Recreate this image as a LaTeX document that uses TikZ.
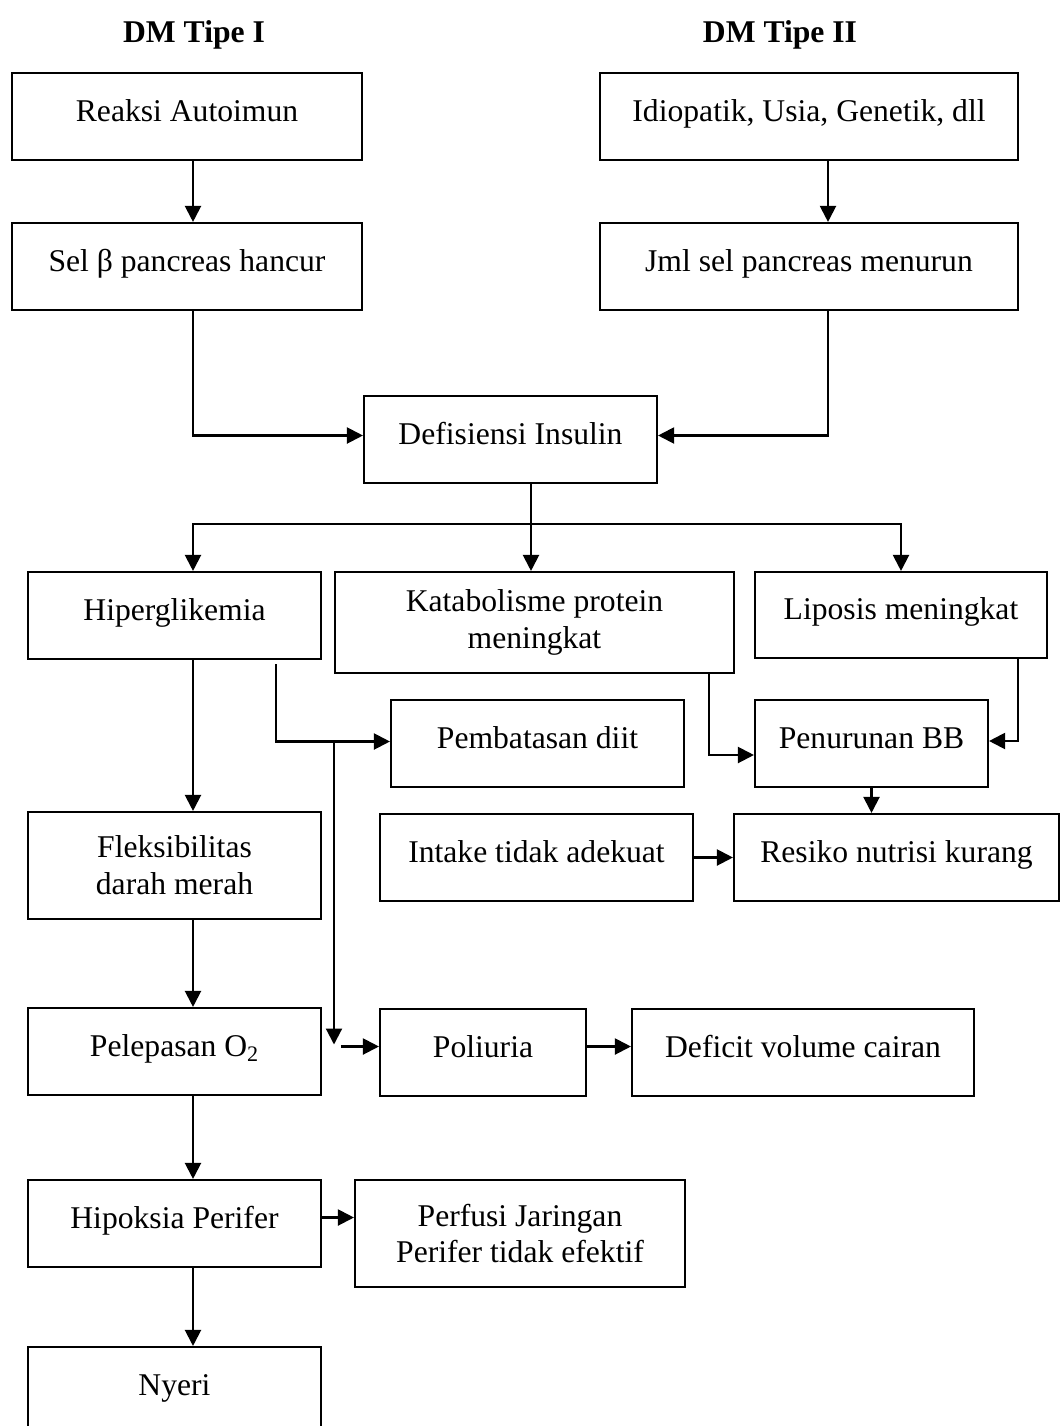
\documentclass[tikz,border=0pt]{standalone}
\usepackage{fontspec}
\setmainfont{Liberation Serif}
\usetikzlibrary{arrows.meta, calc}

\begin{document}
\begin{tikzpicture}[
        font=\fontsize{22.5}{26.5}\selectfont,
        % Define styles for the boxes and the connectors
        box/.style={draw, line width=1.5pt, inner sep=0pt, align=center},
        oneline/.style={text height=0.9em, text depth=0.2em},
        boxsize/.style 2 args={minimum width=#1cm, minimum height=#2cm},
        link/.style={line width=1.5pt},
        arr/.style={line width=1.5pt, -{Triangle[length=0.4cm, width=0.4cm]}},
        heading/.style={font=\fontsize{22.5}{26.5}\selectfont\bfseries, anchor=base}]

        % 0. Page frame (the bottom box runs off the page)
        \useasboundingbox (0,0) rectangle (26.525,-35.65);
        \clip (0,0) rectangle (26.525,-35.65);

        % 1. Headings
        \node[heading] (tipe1) at (4.85,-1.075) {DM Tipe I};
        \node[heading] (tipe2) at (19.5,-1.075) {DM Tipe II};

        % 2. Boxes, placed at their centres
        \node[box, oneline, boxsize={8.75}{2.175}] (reaksi) at (4.675,-2.9125) {Reaksi Autoimun};
        \node[box, oneline, boxsize={10.45}{2.175}] (idiop) at (20.225,-2.9125) {Idiopatik, Usia, Genetik, dll};
        \node[box, oneline, boxsize={8.75}{2.175}] (sel) at (4.675,-6.6625) {Sel β pancreas hancur};
        \node[box, oneline, boxsize={10.45}{2.175}] (jml) at (20.225,-6.6625) {Jml sel pancreas menurun};
        \node[box, oneline, boxsize={7.325}{2.175}] (defis) at (12.7625,-10.9875) {Defisiensi Insulin};

        \node[box, oneline, boxsize={7.325}{2.175}] (hiper) at (4.3625,-15.3875) {Hiperglikemia};
        \node[box, boxsize={9.975}{2.525}] (katab) at (13.3625,-15.5625) {Katabolisme protein\\meningkat};
        \node[box, oneline, boxsize={7.3}{2.15}] (lipos) at (22.525,-15.375) {Liposis meningkat};

        \node[box, oneline, boxsize={7.325}{2.175}] (pemb) at (13.4375,-18.5875) {Pembatasan diit};
        \node[box, oneline, boxsize={5.825}{2.175}] (penur) at (21.7875,-18.5875) {Penurunan BB};
        \node[box, oneline, boxsize={7.825}{2.175}] (intake) at (13.4125,-21.4375) {Intake tidak adekuat};
        \node[box, oneline, boxsize={8.125}{2.175}] (resiko) at (22.4125,-21.4375) {Resiko nutrisi kurang};
        \node[box, boxsize={7.325}{2.675}] (fleks) at (4.3625,-21.6375) {Fleksibilitas\\darah merah};

        \node[box, oneline, boxsize={7.325}{2.175}] (pelep) at (4.3625,-26.2875) {Pelepasan O\textsubscript{2}};
        \node[box, oneline, boxsize={5.15}{2.175}] (poli) at (12.075,-26.3125) {Poliuria};
        \node[box, oneline, boxsize={8.55}{2.175}] (defic) at (20.075,-26.3125) {Deficit volume cairan};

        \node[box, oneline, boxsize={7.325}{2.175}] (hipok) at (4.3625,-30.5875) {Hipoksia Perifer};
        \node[box, boxsize={8.25}{2.675}, font=\fontsize{22.5}{25.5}\selectfont] (perfu) at (13,-30.8375) {Perfusi Jaringan\\Perifer tidak efektif};
        \node[box, oneline, boxsize={7.325}{2.175}] (nyeri) at (4.3625,-34.7625) {Nyeri};

        % 3. Lines the connectors run along
        \coordinate (col1) at (4.825,0);   % left column
        \coordinate (col2) at (20.7,0);    % right column
        \coordinate (split) at (13.275,-13.1);
        \coordinate (hb) at (6.9,0);       % branch out of Hiperglikemia
        \coordinate (vx) at (8.35,0);      % long drop to Poliuria
        \coordinate (kb) at (17.735,0);    % branch out of Katabolisme
        \coordinate (lb) at (25.45,0);     % branch out of Liposis

        % 4. Top part: causes to Defisiensi Insulin
        \draw[arr] (reaksi.south -| col1) -- (sel.north -| col1);
        \draw[arr] (idiop.south -| col2) -- (jml.north -| col2);
        \draw[arr] (sel.south -| col1) |- ([yshift=0.1cm]defis.west);
        \draw[arr] (jml.south -| col2) |- ([yshift=0.1cm]defis.east);

        % 5. Defisiensi Insulin splits in three
        \draw[link] (defis.south -| split) -- (split);
        \draw[arr] (split) -- (katab.north -| split);
        \draw[arr] (split) -| (hiper.north -| col1);
        \draw[arr] (split) -| (lipos.north);

        % 6. Middle part
        \draw[arr] ([yshift=-0.1cm]hiper.south -| hb) |- ([yshift=0.05cm]pemb.west);
        \draw[arr] ([yshift=0.05cm]pemb.west -| vx) -- ([yshift=0.2cm]poli.west -| vx);
        \draw[arr] ([xshift=-0.95cm, yshift=0.15cm]poli.west) -- ([yshift=0.15cm]poli.west);
        \draw[arr] ([yshift=0.15cm]poli.east) -- ([yshift=0.15cm]poli.east -| defic.west);
        \draw[arr] (katab.south -| kb) |- ([yshift=-0.2875cm]penur.west);
        \draw[arr] (lipos.south -| lb) |- ([yshift=0.0625cm]penur.east);
        \draw[arr] (penur.south) -- (resiko.north -| penur.south);
        \draw[arr] (intake.east) -- (resiko.west);

        % 7. Left column down to Nyeri
        \draw[arr] (hiper.south -| col1) -- (fleks.north -| col1);
        \draw[arr] (fleks.south -| col1) -- (pelep.north -| col1);
        \draw[arr] (pelep.south -| col1) -- (hipok.north -| col1);
        \draw[arr] ([yshift=0.15cm]hipok.east) -- ([yshift=0.15cm]hipok.east -| perfu.west);
        \draw[arr] (hipok.south -| col1) -- (nyeri.north -| col1);

    \end{tikzpicture}
\end{document}
